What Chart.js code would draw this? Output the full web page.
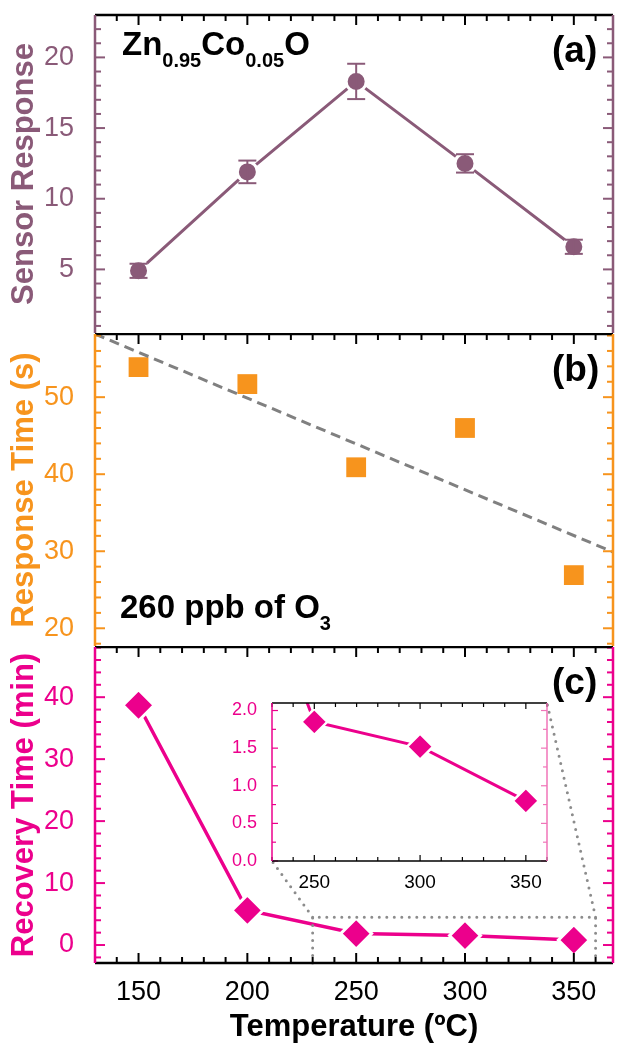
<!DOCTYPE html>
<html>
<head>
<meta charset="utf-8">
<script src="https://cdn.jsdelivr.net/npm/chart.js@4.4.0/dist/chart.umd.min.js"></script>
<style>
  html, body { margin: 0; padding: 0; background: #fff; }
  #wrap { position: relative; width: 617px; height: 1046px; }
  canvas { position: absolute; }
</style>
</head>
<body>
<div id="wrap">
  <canvas id="chartA" width="617" height="333" style="left:0;top:0"></canvas>
  <canvas id="chartB" width="617" height="313" style="left:0;top:333px"></canvas>
  <canvas id="chartC" width="617" height="400" style="left:0;top:646px"></canvas>
  <canvas id="inset" width="330" height="200" style="left:228px;top:695px"></canvas>
</div>
<script>
// values
const temps = [150, 200, 250, 300, 350];
const sensorResponse = [4.9, 11.9, 18.3, 12.5, 6.6];
const sensorError = [0.5, 0.8, 1.25, 0.65, 0.5];
const responseTime = [53.9, 51.7, 40.9, 46.0, 26.9];
const trendTemps = [130, 368];
const trendTime = [58.2, 29.9];
const recoveryTime = [38.7, 5.6, 1.85, 1.52, 0.8];

const xTicks = [150, 200, 250, 300, 350];
const yTicksA = [5, 10, 15, 20];
const yTicksB = [20, 30, 40, 50];
const yTicksC = [0, 10, 20, 30, 40];
const insetXTicks = [250, 300, 350];
const insetYTicks = [0, 0.5, 1, 1.5, 2];

const FONT = "'Liberation Sans', Arial, sans-serif";
const PURPLE = '#8a5a78';
const ORANGE = '#f7941d';
const PINK = '#ec008c';
const GRAY = '#808080';

Chart.defaults.font.family = FONT;

const pts = (xs, ys) => xs.map((x, i) => ({ x: x, y: ys[i] }));
const fixTicks = arr => s => { s.ticks = arr.map(v => ({ value: v })); };

function seg(ctx, x1, y1, x2, y2) {
  ctx.beginPath(); ctx.moveTo(x1, y1); ctx.lineTo(x2, y2); ctx.stroke();
}

// inward ticks + panel borders
const framePlugin = {
  id: 'frame',
  afterDraw(chart, args, o) {
    const { ctx, chartArea: a } = chart;
    const sx = chart.scales.x, sy = chart.scales.y;
    ctx.save();
    ctx.lineWidth = o.tickWidth;
    ctx.strokeStyle = '#000';
    for (let i = 0; ; i++) {
      const v = o.xStart + i * o.xMinor;
      if (v > sx.max + 1e-6) break;
      const px = sx.getPixelForValue(v);
      const len = Math.round(v) % o.xMajor === 0 ? o.majorLen : o.minorLen;
      seg(ctx, px, a.top, px, a.top + len);
      if (o.bottomBorder) seg(ctx, px, a.bottom, px, a.bottom - len);
    }
    for (let i = 0; ; i++) {
      const v = o.yStart + i * o.yMinor;
      if (v > sy.max + 1e-6) break;
      const py = sy.getPixelForValue(v);
      const r = v / o.yMajor;
      const len = Math.abs(r - Math.round(r)) < 1e-6 ? o.majorLen : o.minorLen;
      ctx.strokeStyle = o.leftColor; seg(ctx, a.left, py, a.left + len, py);
      ctx.strokeStyle = o.rightColor; seg(ctx, a.right, py, a.right - len, py);
    }
    ctx.lineWidth = o.borderWidth;
    ctx.strokeStyle = '#000';
    seg(ctx, a.left, a.top, a.right, a.top);
    if (o.bottomBorder) seg(ctx, a.left, a.bottom, a.right, a.bottom);
    ctx.strokeStyle = o.leftColor; seg(ctx, a.left, a.top, a.left, a.bottom);
    ctx.strokeStyle = o.rightColor; seg(ctx, a.right, a.top, a.right, a.bottom);
    ctx.restore();
  }
};

// text labels with subscripts
const notesPlugin = {
  id: 'notes',
  afterDraw(chart, args, o) {
    if (!o.items) return;
    const ctx = chart.ctx;
    ctx.save();
    ctx.fillStyle = '#000';
    ctx.textAlign = 'left';
    ctx.textBaseline = 'alphabetic';
    for (const it of o.items) {
      let x = it.x;
      for (const [txt, sub] of it.parts) {
        ctx.font = 'bold ' + (sub ? it.subSize : it.size) + 'px ' + FONT;
        ctx.fillText(txt, x, it.y + (sub ? it.subDrop : 0));
        x += ctx.measureText(txt).width;
      }
    }
    ctx.restore();
  }
};

const errorBarPlugin = {
  id: 'errorBars',
  afterDatasetsDraw(chart, args, o) {
    if (!o.errors) return;
    const { ctx } = chart;
    const sx = chart.scales.x, sy = chart.scales.y;
    const data = chart.data.datasets[0].data;
    ctx.save();
    ctx.strokeStyle = o.color;
    ctx.lineWidth = 2;
    data.forEach((p, i) => {
      const px = sx.getPixelForValue(p.x);
      const hi = sy.getPixelForValue(p.y + o.errors[i]);
      const lo = sy.getPixelForValue(p.y - o.errors[i]);
      seg(ctx, px, hi, px, lo);
      seg(ctx, px - 9, hi, px + 9, hi);
      seg(ctx, px - 9, lo, px + 9, lo);
    });
    ctx.restore();
  }
};

function yScale(min, max, ticks, color, title) {
  return {
    min: min, max: max,
    afterBuildTicks: fixTicks(ticks),
    afterFit: s => { s.width = 95; s.paddingTop = 0; s.paddingBottom = 0; },
    grid: { display: false },
    border: { display: false },
    ticks: { color: color, font: { size: 27 }, padding: 13 },
    title: { display: true, text: title, color: color, font: { size: 31, weight: 'bold' }, padding: { top: 6 } }
  };
}

const hiddenX = { type: 'linear', min: 130, max: 368, display: false };

function frameOpts(color, yStart, yMinor, yMajor, bottom) {
  return {
    xStart: 130, xMinor: 10, xMajor: 50,
    yStart: yStart, yMinor: yMinor, yMajor: yMajor,
    leftColor: color, rightColor: color,
    majorLen: 10, minorLen: 6, tickWidth: 2, borderWidth: 2.5,
    bottomBorder: bottom
  };
}

// panel (a)
new Chart(document.getElementById('chartA'), {
  type: 'line',
  data: {
    datasets: [{
      data: pts(temps, sensorResponse),
      borderColor: PURPLE, borderWidth: 3,
      pointRadius: 10, pointBackgroundColor: PURPLE,
      pointBorderColor: '#fff', pointBorderWidth: 3
    }]
  },
  options: {
    responsive: false, animation: false,
    layout: { autoPadding: false, padding: { top: 15, right: 4, left: 0, bottom: 0 } },
    plugins: {
      legend: { display: false }, tooltip: { enabled: false },
      frame: frameOpts(PURPLE, 1, 1, 5, false),
      errorBars: { errors: sensorError, color: PURPLE },
      notes: { items: [
        { x: 122, y: 55, size: 33, subSize: 20, subDrop: 12,
          parts: [['Zn', false], ['0.95', true], ['Co', false], ['0.05', true], ['O', false]] },
        { x: 552, y: 62, size: 37, parts: [['(a)', false]] }
      ] }
    },
    scales: { x: hiddenX, y: yScale(0.5, 23, yTicksA, PURPLE, 'Sensor Response') }
  },
  plugins: [framePlugin, errorBarPlugin, notesPlugin]
});

// panel (b)
new Chart(document.getElementById('chartB'), {
  type: 'line',
  data: {
    datasets: [{
      data: pts(trendTemps, trendTime),
      borderColor: GRAY, borderWidth: 3, borderDash: [10, 6],
      pointRadius: 0
    }, {
      data: pts(temps, responseTime),
      showLine: false, pointStyle: 'rect',
      pointRadius: 14, pointBackgroundColor: ORANGE, pointBorderWidth: 0
    }]
  },
  options: {
    responsive: false, animation: false,
    layout: { autoPadding: false, padding: { top: 1, right: 4, left: 0, bottom: 0 } },
    plugins: {
      legend: { display: false }, tooltip: { enabled: false },
      frame: frameOpts(ORANGE, 18, 2, 10, false),
      notes: { items: [
        { x: 552, y: 48, size: 37, parts: [['(b)', false]] },
        { x: 120, y: 285, size: 33, subSize: 20, subDrop: 12,
          parts: [['260 ppb of O', false], ['3', true]] }
      ] }
    },
    scales: { x: hiddenX, y: yScale(17.7, 58.2, yTicksB, ORANGE, 'Response Time (s)') }
  },
  plugins: [framePlugin, notesPlugin]
});

// inset of panel (c)
const insetChart = new Chart(document.getElementById('inset'), {
  type: 'line',
  data: {
    datasets: [{
      data: pts(temps, recoveryTime),
      clip: 0,
      borderColor: PINK, borderWidth: 3,
      pointStyle: 'rectRot', pointRadius: 13, pointBackgroundColor: PINK,
      pointBorderColor: '#fff', pointBorderWidth: 2.5
    }]
  },
  options: {
    responsive: false, animation: false,
    layout: { autoPadding: false, padding: { top: 8, right: 11, left: 0, bottom: 0 } },
    plugins: {
      legend: { display: false }, tooltip: { enabled: false },
      frame: {
        xStart: 230, xMinor: 10, xMajor: 50,
        yStart: 0, yMinor: 0.25, yMajor: 0.5,
        leftColor: PINK, rightColor: '#f075b8',
        majorLen: 6, minorLen: 4, tickWidth: 1.2, borderWidth: 1.5,
        bottomBorder: true
      }
    },
    scales: {
      x: {
        type: 'linear', min: 230, max: 360,
        afterBuildTicks: fixTicks(insetXTicks),
        afterFit: s => { s.height = 34; s.paddingLeft = 0; s.paddingRight = 0; },
        grid: { display: false }, border: { display: false },
        ticks: { color: '#000', font: { size: 19 }, padding: 2 }
      },
      y: {
        min: 0, max: 2.1,
        afterBuildTicks: fixTicks(insetYTicks),
        afterFit: s => { s.width = 44; s.paddingTop = 0; s.paddingBottom = 0; },
        grid: { display: false }, border: { display: false },
        ticks: { color: PINK, font: { size: 18 }, padding: 7, callback: v => v.toFixed(1) }
      }
    }
  },
  plugins: [framePlugin]
});

// zoom box + connectors drawn on panel (c)
const zoomPlugin = {
  id: 'zoomBox',
  afterDatasetsDraw(chart, args, o) {
    const { ctx, chartArea: a } = chart;
    const sx = chart.scales.x, sy = chart.scales.y;
    const ia = insetChart.chartArea;
    const offX = 228, offY = 695 - 646;
    const x1 = sx.getPixelForValue(o.x0), x2 = sx.getPixelForValue(o.x1);
    const yt = sy.getPixelForValue(o.yTop), yb = a.bottom;
    ctx.save();
    ctx.strokeStyle = '#8c8c8c';
    ctx.lineWidth = 3;
    ctx.lineCap = 'round';
    ctx.setLineDash([0, 7.5]);
    ctx.beginPath();
    ctx.moveTo(x1, yb); ctx.lineTo(x1, yt); ctx.lineTo(x2, yt); ctx.lineTo(x2, yb);
    ctx.stroke();
    seg(ctx, x1, yt, offX + ia.left, offY + ia.bottom);
    seg(ctx, x2, yt, offX + ia.right, offY + ia.top);
    ctx.restore();
  }
};

// panel (c)
new Chart(document.getElementById('chartC'), {
  type: 'line',
  data: {
    datasets: [{
      data: pts(temps, recoveryTime),
      borderColor: PINK, borderWidth: 3.5,
      pointStyle: 'rectRot', pointRadius: 15.5, pointBackgroundColor: PINK,
      pointBorderColor: '#fff', pointBorderWidth: 3
    }]
  },
  options: {
    responsive: false, animation: false,
    layout: { autoPadding: false, padding: { top: 1, right: 4, left: 0, bottom: 0 } },
    plugins: {
      legend: { display: false }, tooltip: { enabled: false },
      frame: frameOpts(PINK, -2, 2, 10, true),
      zoomBox: { x0: 230, x1: 360, yTop: 4.5 },
      notes: { items: [
        { x: 552, y: 48, size: 37, parts: [['(c)', false]] }
      ] }
    },
    scales: {
      x: {
        type: 'linear', min: 130, max: 368,
        afterBuildTicks: fixTicks(xTicks),
        afterFit: s => { s.height = 83; s.paddingLeft = 0; s.paddingRight = 0; },
        grid: { display: false }, border: { display: false },
        ticks: { color: '#000', font: { size: 27 }, padding: 5 },
        title: { display: true, text: 'Temperature (ºC)', color: '#000',
                 font: { size: 31, weight: 'bold' }, padding: { top: 0, bottom: 0 } }
      },
      y: yScale(-2.9, 48.1, yTicksC, PINK, 'Recovery Time (min)')
    }
  },
  plugins: [framePlugin, zoomPlugin, notesPlugin]
});
</script>
</body>
</html>
